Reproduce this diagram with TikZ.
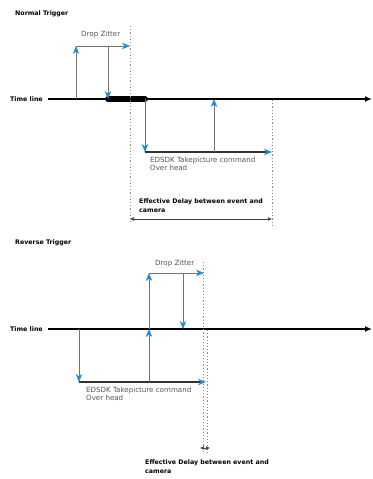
\documentclass[tikz,border=0pt]{standalone}
\usepackage{fontspec}
\setmainfont{DejaVu Sans}
\usetikzlibrary{arrows.meta}

\definecolor{tipblue}{RGB}{30,140,215}
\definecolor{linegray}{RGB}{115,115,115}
\definecolor{textgray}{RGB}{85,85,85}
\definecolor{guidegray}{RGB}{140,140,140}

\tikzset{
  bluetip/.tip={Stealth[length=8pt,width=6.5pt,inset=2.5pt,color=tipblue,fill=tipblue]},
  title/.style={font=\bfseries\fontsize{6.3}{7.5}\selectfont, anchor=west, inner sep=0},
  note/.style={font=\fontsize{7.1}{8}\selectfont, text=textgray, anchor=north west, align=left, inner sep=0},
  delaytext/.style={font=\bfseries\fontsize{6.3}{9}\selectfont, anchor=north west, align=left, inner sep=0},
  axis/.style={draw=black, line width=1.3pt, -{Latex[length=7pt,width=6pt]}},
  signal/.style={draw=linegray, line width=0.7pt, -bluetip},
  command/.style={draw=black!80, line width=1.4pt, -bluetip},
  guide/.style={draw=guidegray, line width=0.8pt, dash pattern=on 1.2pt off 2pt},
  delay/.style={draw=black!75, line width=0.7pt, {Latex[length=4pt,width=4pt]}-{Latex[length=4pt,width=4pt]}},
  jitterbar/.style={draw=black, line width=6pt, line cap=round}
}

\begin{document}
\begin{tikzpicture}[x=1pt,y=-1pt]
\useasboundingbox (0,0) rectangle (372,479);

% ---------------- Normal trigger ----------------
\node[title] (ntitle) at (15,14) {Normal Trigger};
\node[title] (nlabel) at (10,99) {Time line};
\coordinate (nstart) at (48,99);
\coordinate (nend) at (372,99);
\draw[axis] (nstart) -- (nend);

% jitter window on the time line
\coordinate (barL) at (108,99);
\coordinate (barR) at (145,99);
\draw[jitterbar] (barL) -- (barR);

% event pulse and drop jitter
\coordinate (evt) at (76,99);
\coordinate (evtTop) at (76,46);
\coordinate (jitEnd) at (130,46);
\coordinate (dropTop) at (108,46);
\coordinate (dropBot) at (108,99);
\draw[signal] (evt) -- (evtTop);
\draw[signal] (evtTop) -- (jitEnd);
\draw[signal] (dropTop) -- (dropBot);
\node[note, anchor=south west] (njit) at (81,38) {Drop Zitter};

% command overhead
\coordinate (cmdTop) at (145,99);
\coordinate (cmdBot) at (145,152);
\coordinate (cmdEnd) at (272,152);
\coordinate (camBot) at (214,152);
\coordinate (camTop) at (214,99);
\draw[signal] (cmdTop) -- (cmdBot);
\draw[command] (cmdBot) -- (cmdEnd);
\draw[signal] (camBot) -- (camTop);
\node[note] (ncmd) at (150,157) {EDSDK Takepicture command\\Over head};

% guides and effective delay
\coordinate (g1top) at (130,26);
\coordinate (g1bot) at (130,223);
\coordinate (g2top) at (272,100);
\coordinate (g2bot) at (272,226);
\draw[guide] (g1top) -- (g1bot);
\draw[guide] (g2top) -- (g2bot);
\coordinate (d1L) at (130,219);
\coordinate (d1R) at (272,219);
\draw[delay] (d1L) -- (d1R);
\node[delaytext] (ndelay) at (139,199) {Effective Delay between event and\\camera};

% ---------------- Reverse trigger ----------------
\node[title] (rtitle) at (15,243) {Reverse Trigger};
\node[title] (rlabel) at (10,329) {Time line};
\coordinate (rstart) at (48,329);
\coordinate (rend) at (372,329);
\draw[axis] (rstart) -- (rend);

% command overhead first
\coordinate (rcTop) at (79,329);
\coordinate (rcBot) at (79,382);
\coordinate (rcEnd) at (206,382);
\draw[signal] (rcTop) -- (rcBot);
\draw[command] (rcBot) -- (rcEnd);
\node[note] (rcmd) at (86,387) {EDSDK Takepicture command\\Over head};

% camera response then event and drop jitter
\coordinate (reBot) at (149,382);
\coordinate (reMid) at (149,329);
\coordinate (reTop) at (149,273);
\coordinate (rjEnd) at (204,273);
\coordinate (rdTop) at (183,273);
\coordinate (rdBot) at (183,329);
\draw[signal] (reBot) -- (reMid);
\draw[signal] (reMid) -- (reTop);
\draw[signal] (reTop) -- (rjEnd);
\draw[signal] (rdTop) -- (rdBot);
\node[note, anchor=south west] (rjit) at (155,267) {Drop Zitter};

% guides and effective delay
\coordinate (g3top) at (203,262);
\coordinate (g3bot) at (203,452);
\coordinate (g4top) at (207,330);
\coordinate (g4bot) at (207,454);
\draw[guide] (g3top) -- (g3bot);
\draw[guide] (g4top) -- (g4bot);
\coordinate (d2L) at (203,448);
\coordinate (d2R) at (207,448);
\draw[delay, shorten <=-3pt, shorten >=-3pt] (d2L) -- (d2R);
\node[delaytext] (rdelay) at (145,460) {Effective Delay between event and\\camera};
\end{tikzpicture}
\end{document}
